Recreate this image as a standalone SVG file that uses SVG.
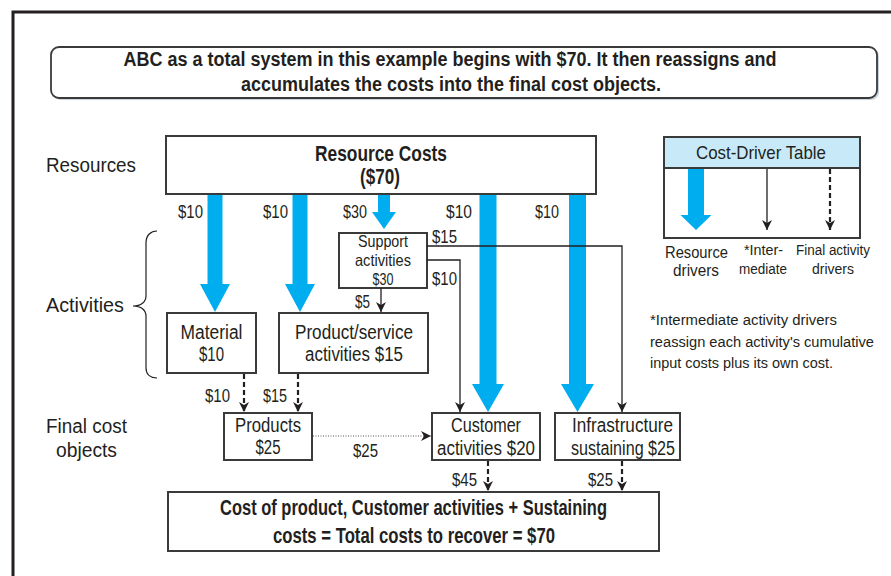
<svg xmlns="http://www.w3.org/2000/svg" width="891" height="576" viewBox="0 0 891 576">
  <defs>
    <style>
      text { font-family: "Liberation Sans Narrow", "Liberation Sans", Arial, sans-serif; fill: #231f20; }
      .b { font-weight: bold; }
      .box { fill: #fff; stroke: #3a3a3a; stroke-width: 2; }
      .blue { fill: #00aeef; }
      .thin { fill: none; stroke: #231f20; stroke-width: 1.3; }
      .dash { fill: none; stroke: #231f20; stroke-width: 2.2; stroke-dasharray: 5 3; }
      .dot { fill: none; stroke: #555; stroke-width: 1; stroke-dasharray: 1 1.5; }
    </style>
    <marker id="ah" viewBox="0 0 10 10" refX="10" refY="5" markerWidth="10" markerHeight="10" markerUnits="userSpaceOnUse" orient="auto">
      <path d="M0,0 L10,5 L0,10 L3,5 z" fill="#231f20"/>
    </marker>
  </defs>

  <rect width="891" height="576" fill="#fff"/>

  <!-- outer frame, open to the right and bottom -->
  <path d="M13,576 V12 H891" fill="none" stroke="#231f20" stroke-width="3"/>

  <!-- title banner -->
  <g id="title">
    <rect x="53" y="49" width="826" height="51" rx="8" fill="#c9d6df"/>
    <rect x="51" y="47" width="826" height="51" rx="8" fill="#fff" stroke="#3a3a3a" stroke-width="1.8"/>
    <text class="b" x="450" y="66" font-size="19.5" text-anchor="middle" textLength="653" lengthAdjust="spacingAndGlyphs">ABC as a total system in this example begins with $70. It then reassigns and</text>
    <text class="b" x="451" y="91" font-size="19.5" text-anchor="middle" textLength="420" lengthAdjust="spacingAndGlyphs">accumulates the costs into the final cost objects.</text>
  </g>

  <!-- row labels -->
  <g id="row-labels" font-size="19.5">
    <text x="46" y="172" textLength="90" lengthAdjust="spacingAndGlyphs">Resources</text>
    <text x="46" y="312" textLength="78" lengthAdjust="spacingAndGlyphs">Activities</text>
    <text x="46" y="433" textLength="81" lengthAdjust="spacingAndGlyphs">Final cost</text>
    <text x="56" y="457" textLength="61" lengthAdjust="spacingAndGlyphs">objects</text>
    <path d="M157,231 C151,231 146,235 146,243 L146,296 C146,302 141,306 133,306 C141,306 146,310 146,316 L146,368 C146,375 151,378 157,378" fill="none" stroke="#231f20" stroke-width="1.2"/>
  </g>

  <!-- resource driver arrows (drawn first, under boxes) -->
  <g id="resource-drivers" class="blue">
    <polygon points="207.5,195 222.5,195 222.5,284 230,284 215,312 200,284 207.5,284"/>
    <polygon points="292.5,195 307.5,195 307.5,284 315,284 300,312 285,284 292.5,284"/>
    <polygon points="378,195 390,195 390,212 396,212 384,229 372,212 378,212"/>
    <polygon points="479.5,195 496.5,195 496.5,384 504,384 488,412 472,384 479.5,384"/>
    <polygon points="569,195 586,195 586,384 594,384 577.5,412 561,384 569,384"/>
  </g>

  <g id="resource-costs">
    <rect class="box" x="166" y="136" width="430" height="58"/>
    <text class="b" x="381" y="161" font-size="21.5" text-anchor="middle" textLength="132" lengthAdjust="spacingAndGlyphs">Resource Costs</text>
    <text class="b" x="380" y="184" font-size="21.5" text-anchor="middle" textLength="40" lengthAdjust="spacingAndGlyphs">($70)</text>
  </g>

  <g id="resource-amounts" font-size="18.5">
    <text x="178" y="218" textLength="25" lengthAdjust="spacingAndGlyphs">$10</text>
    <text x="263" y="218" textLength="25" lengthAdjust="spacingAndGlyphs">$10</text>
    <text x="343" y="218" textLength="24" lengthAdjust="spacingAndGlyphs">$30</text>
    <text x="446" y="218" textLength="26" lengthAdjust="spacingAndGlyphs">$10</text>
    <text x="535" y="218" textLength="24" lengthAdjust="spacingAndGlyphs">$10</text>
  </g>

  <g id="support" font-size="16.5">
    <rect class="box" x="339" y="233" width="88" height="55" stroke-width="1.6"/>
    <text x="383" y="247" text-anchor="middle" textLength="50" lengthAdjust="spacingAndGlyphs">Support</text>
    <text x="383" y="266" text-anchor="middle" textLength="56" lengthAdjust="spacingAndGlyphs">activities</text>
    <text x="383" y="285" text-anchor="middle" textLength="21" lengthAdjust="spacingAndGlyphs">$30</text>
  </g>

  <g id="material" font-size="19.5">
    <rect class="box" x="167" y="313" width="89" height="60"/>
    <text x="211.5" y="339" text-anchor="middle" textLength="62" lengthAdjust="spacingAndGlyphs">Material</text>
    <text x="211.5" y="361" text-anchor="middle" textLength="25" lengthAdjust="spacingAndGlyphs">$10</text>
  </g>

  <g id="product-service" font-size="19.5">
    <rect class="box" x="279" y="313" width="149" height="60"/>
    <text x="354" y="339" text-anchor="middle" textLength="118" lengthAdjust="spacingAndGlyphs">Product/service</text>
    <text x="354" y="361" text-anchor="middle" textLength="98" lengthAdjust="spacingAndGlyphs">activities $15</text>
  </g>

  <g id="products" font-size="19.5">
    <rect class="box" x="224" y="413" width="88" height="47"/>
    <text x="268" y="432" text-anchor="middle" textLength="66" lengthAdjust="spacingAndGlyphs">Products</text>
    <text x="268" y="454" text-anchor="middle" textLength="25" lengthAdjust="spacingAndGlyphs">$25</text>
  </g>

  <g id="customer" font-size="19.5">
    <rect class="box" x="432" y="413" width="108" height="47"/>
    <text x="486" y="432" text-anchor="middle" textLength="70" lengthAdjust="spacingAndGlyphs">Customer</text>
    <text x="486" y="455" text-anchor="middle" textLength="98" lengthAdjust="spacingAndGlyphs">activities $20</text>
  </g>

  <g id="infrastructure" font-size="19.5">
    <rect class="box" x="555" y="413" width="125" height="47"/>
    <text x="622.5" y="432" text-anchor="middle" textLength="101" lengthAdjust="spacingAndGlyphs">Infrastructure</text>
    <text x="623" y="455" text-anchor="middle" textLength="104" lengthAdjust="spacingAndGlyphs">sustaining $25</text>
  </g>

  <g id="total">
    <rect class="box" x="168" y="492" width="491" height="59"/>
    <text class="b" x="413.5" y="515" font-size="21.5" text-anchor="middle" textLength="387" lengthAdjust="spacingAndGlyphs">Cost of product, Customer activities + Sustaining</text>
    <text class="b" x="414" y="543" font-size="21.5" text-anchor="middle" textLength="282" lengthAdjust="spacingAndGlyphs">costs = Total costs to recover = $70</text>
  </g>

  <!-- connectors between activities and cost objects -->
  <g id="connectors">
    <path class="thin" d="M427,246 H622 V412" marker-end="url(#ah)"/>
    <path class="thin" d="M427,260 H460 V412" marker-end="url(#ah)"/>
    <path class="thin" d="M381,288 V312" marker-end="url(#ah)"/>
    <path class="dash" d="M244,374 V412" marker-end="url(#ah)"/>
    <path class="dash" d="M298,374 V412" marker-end="url(#ah)"/>
    <path class="dash" d="M488,461 V491" marker-end="url(#ah)"/>
    <path class="dash" d="M622,461 V491" marker-end="url(#ah)"/>
    <path class="dot" d="M313,436 H431" marker-end="url(#ah)"/>
  </g>

  <g id="connector-labels" font-size="18.5">
    <text x="432" y="243" textLength="25" lengthAdjust="spacingAndGlyphs">$15</text>
    <text x="432" y="285" textLength="25" lengthAdjust="spacingAndGlyphs">$10</text>
    <text x="355" y="308" textLength="15" lengthAdjust="spacingAndGlyphs">$5</text>
    <text x="205" y="402" textLength="25" lengthAdjust="spacingAndGlyphs">$10</text>
    <text x="263" y="402" textLength="24" lengthAdjust="spacingAndGlyphs">$15</text>
    <text x="353" y="457" textLength="25" lengthAdjust="spacingAndGlyphs">$25</text>
    <text x="452" y="486" textLength="25" lengthAdjust="spacingAndGlyphs">$45</text>
    <text x="588" y="486" textLength="25" lengthAdjust="spacingAndGlyphs">$25</text>
  </g>

  <!-- legend -->
  <g id="cost-driver-table">
    <rect x="664" y="137" width="196" height="101" fill="#fff" stroke="#3a3a3a" stroke-width="2"/>
    <rect x="664" y="137" width="196" height="31" fill="#c8eaf8" stroke="#3a3a3a" stroke-width="2"/>
    <text x="761" y="159" font-size="19" text-anchor="middle" textLength="130" lengthAdjust="spacingAndGlyphs">Cost-Driver Table</text>
    <polygon class="blue" points="688,169 704,169 704,215 711.5,215 696,230 680.5,215 688,215"/>
    <path class="thin" d="M767,169 V230" marker-end="url(#ah)"/>
    <path class="dash" d="M830,169 V230" stroke-width="2" marker-end="url(#ah)"/>
    <text x="696.5" y="258" font-size="17" text-anchor="middle" textLength="63" lengthAdjust="spacingAndGlyphs">Resource</text>
    <text x="696" y="276" font-size="17" text-anchor="middle" textLength="46" lengthAdjust="spacingAndGlyphs">drivers</text>
    <text x="763.5" y="255" font-size="15.5" text-anchor="middle" textLength="39" lengthAdjust="spacingAndGlyphs">*Inter-</text>
    <text x="763" y="274" font-size="15.5" text-anchor="middle" textLength="48" lengthAdjust="spacingAndGlyphs">mediate</text>
    <text x="833" y="255" font-size="15.5" text-anchor="middle" textLength="74" lengthAdjust="spacingAndGlyphs">Final activity</text>
    <text x="833" y="274" font-size="15.5" text-anchor="middle" textLength="42" lengthAdjust="spacingAndGlyphs">drivers</text>
  </g>

  <g id="note" font-size="15.5">
    <text x="650" y="325" textLength="187" lengthAdjust="spacingAndGlyphs">*Intermediate activity drivers</text>
    <text x="650" y="347" textLength="224" lengthAdjust="spacingAndGlyphs">reassign each activity's cumulative</text>
    <text x="650" y="368" textLength="183" lengthAdjust="spacingAndGlyphs">input costs plus its own cost.</text>
  </g>
</svg>
